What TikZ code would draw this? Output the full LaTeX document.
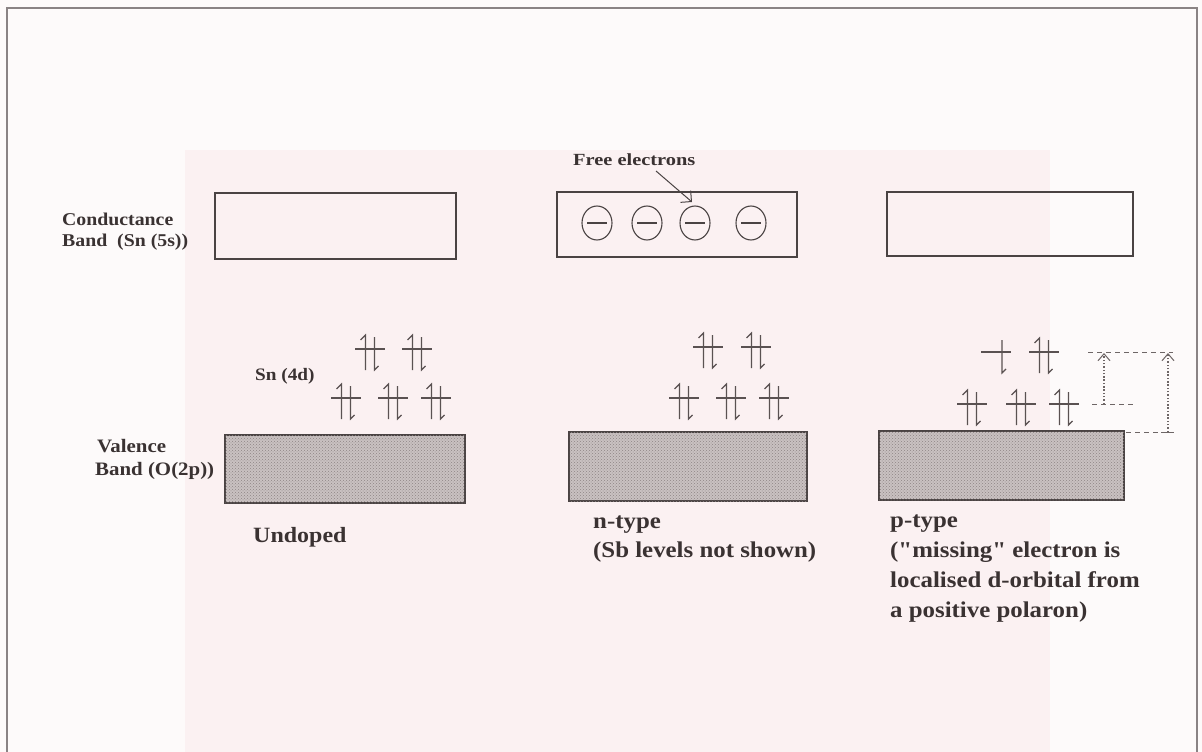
\documentclass[tikz,border=0pt]{standalone}
\usepackage{fontspec}
\setmainfont{Liberation Serif}
\newfontfamily\labfont[FakeStretch=1.1]{Liberation Serif}
\newfontfamily\widefont[FakeStretch=1.2]{Liberation Serif}
\usetikzlibrary{arrows.meta,shapes.geometric,patterns}
\definecolor{ink}{HTML}{3A3232}
\definecolor{bandline}{HTML}{4A4343}
\definecolor{framec}{HTML}{8A8384}
\definecolor{pinkbg}{HTML}{FBF1F2}
\definecolor{paper}{HTML}{FDFAFA}
\definecolor{vbfill}{HTML}{C9C1C1}
\definecolor{vbdots}{HTML}{8E8585}
\definecolor{eink}{HTML}{5A5252}
\definecolor{dashc}{HTML}{6E6666}
\begin{document}
\begin{tikzpicture}[x=1pt,y=-1pt,
  txt/.style={anchor=base west,inner sep=0pt,text=ink},
  fsmall/.style={font=\widefont\bfseries\fontsize{17}{19}\selectfont},
  fsn/.style={font=\labfont\bfseries\fontsize{17.5}{19}\selectfont},
  fside/.style={font=\labfont\bfseries\fontsize{18}{21}\selectfont},
  fvside/.style={font=\labfont\bfseries\fontsize{19}{22}\selectfont},
  fbig/.style={font=\labfont\bfseries\fontsize{22.6}{26}\selectfont},
  fund/.style={font=\labfont\bfseries\fontsize{21.8}{26}\selectfont},
  bandbox/.style={draw=bandline,line width=1.3pt,inner sep=0pt},
  cbox/.style={bandbox},
  vbox/.style={bandbox,fill=vbfill,postaction={pattern=crosshatch dots,pattern color=vbdots}},
  elec/.style={ellipse,draw=bandline,line width=1.1pt,minimum width=30pt,minimum height=34pt,inner sep=0pt},
  eline/.style={draw=eink,line width=1.2pt},
  dashl/.style={draw=dashc,line width=1pt,dash pattern=on 5pt off 4pt},
  dotarr/.style={draw=dashc,line width=1.1pt,dash pattern=on 1.5pt off 1.8pt,-{Straight Barb[length=7pt,width=12pt,line width=1pt]}},
  orb/.pic={\draw[eline] (-15,0)--(15,0);},
  eup/.pic={\draw[eline] (-4.5,21)--(-4.5,-14)--(-9.5,-9);},
  edn/.pic={\draw[eline] (4.5,-12)--(4.5,21)--(8.5,17);},
  epair/.pic={\pic{orb};\pic{eup};\pic{edn};}
]
\useasboundingbox (0,0) rectangle (1202,752);
% paper and scan tint
\fill[paper] (0,0) rectangle (1202,752);
\fill[pinkbg] (185,150) rectangle (1050,752);
\draw[framec,line width=2pt] (7,770) -- (7,8) -- (1197,8) -- (1197,770);

% conductance bands
\node[cbox,minimum width=241pt,minimum height=66pt] (cb1) at (335.5,226) {};
\node[cbox,minimum width=240pt,minimum height=65pt] (cb2) at (677,224.5) {};
\node[cbox,minimum width=246pt,minimum height=64pt] (cb3) at (1010,224) {};

% valence bands
\node[vbox,minimum width=240pt,minimum height=68pt] (vb1) at (345,469) {};
\node[vbox,minimum width=238pt,minimum height=69pt] (vb2) at (688,466.5) {};
\node[vbox,minimum width=245pt,minimum height=69pt] (vb3) at (1001.5,465.5) {};

% side labels
\node[txt,fside] (cond1) at (62,225) {Conductance};
\node[txt,fside] (cond2) at (62,246) {Band\ \ (Sn (5s))};
\node[txt,fsn] (sn4d) at (255,380) {Sn (4d)};
\node[txt,fvside] (val1) at (97,452) {Valence};
\node[txt,fvside] (val2) at (95,475) {Band (O(2p))};

% free electrons
\node[elec] (e1) at (597,223) {};
\node[elec] (e2) at (647,223) {};
\node[elec] (e3) at (695,223) {};
\node[elec] (e4) at (751,223) {};
\foreach \e in {e1,e2,e3,e4}
  \draw[bandline,line width=1.2pt] ([xshift=-10pt]\e.center) -- ([xshift=10pt]\e.center);
\node[txt,fsmall] (free) at (573,165) {Free electrons};
\coordinate (fs) at (656,171);
\coordinate (fe) at (692,202);
\draw[bandline,line width=1pt,-{Straight Barb[angle=90:11pt,line width=1pt]}] (fs) -- (fe);

% Sn 4d levels: undoped
\pic at (370,349) {epair};
\pic at (417,349) {epair};
\pic at (346,398) {epair};
\pic at (393,398) {epair};
\pic at (436,398) {epair};
% n-type
\pic at (708,347) {epair};
\pic at (756,347) {epair};
\pic at (684,398) {epair};
\pic at (731,398) {epair};
\pic at (774,398) {epair};
% p-type
\pic at (996,352) {orb};
\pic at (997.5,352) {edn};
\pic at (1044,352) {epair};
\pic at (972,404) {epair};
\pic at (1021,404) {epair};
\pic at (1064,404) {epair};

% p-type energy markers
\coordinate (t1) at (1088,352);
\coordinate (t2) at (1173,352);
\coordinate (m1) at (1092,404);
\coordinate (m2) at (1135,404);
\coordinate (b1) at (1126,432);
\coordinate (b2) at (1173,432);
\draw[dashl] (t1) -- (t2);
\draw[dashl] (m1) -- (m2);
\draw[dashl] (b1) -- (b2);
\coordinate (a1s) at (1104,404);
\coordinate (a1e) at (1104,353);
\coordinate (a2s) at (1168,432);
\coordinate (a2e) at (1168,353);
\draw[dotarr] (a1s) -- (a1e);
\draw[dotarr] (a2s) -- (a2e);
\draw[dashc,line width=1pt] (1161,432) -- (1174,432);

% captions
\node[txt,fund] (undoped) at (253,542) {Undoped};
\node[txt,fbig] (n1) at (593,528) {n-type};
\node[txt,fbig] (n2) at (593,557) {(Sb levels not shown)};
\node[txt,fbig] (p1) at (890,527) {p-type};
\node[txt,fbig] (p2) at (890,557) {("missing" electron is};
\node[txt,fbig] (p3) at (890,587) {localised d-orbital from};
\node[txt,fbig] (p4) at (890,617) {a positive polaron)};
\end{tikzpicture}
\end{document}
